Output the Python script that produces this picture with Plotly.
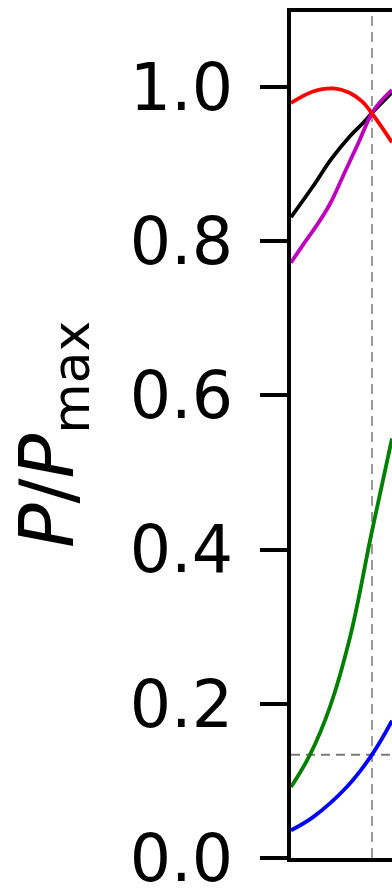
import plotly.graph_objects as go

# x in units where the vertical reference line sits at 1.0
x_red = [0.0, 0.272, 0.519, 0.728, 0.877, 0.975, 1.099, 1.247]
y_red = [0.979, 0.994, 0.998, 0.992, 0.981, 0.969, 0.951, 0.928]

x_black = [0.0, 0.272, 0.494, 0.728, 0.889, 1.0, 1.099, 1.247]
y_black = [0.831, 0.871, 0.906, 0.936, 0.953, 0.966, 0.977, 0.993]

x_mag = [0.0, 0.148, 0.309, 0.481, 0.654, 0.827, 1.0, 1.099, 1.247]
y_mag = [0.772, 0.795, 0.819, 0.848, 0.887, 0.926, 0.966, 0.980, 0.996]

x_green = [0.0, 0.235, 0.481, 0.728, 1.0, 1.247]
y_green = [0.092, 0.134, 0.196, 0.286, 0.424, 0.544]

x_blue = [0.0, 0.272, 0.688, 1.0, 1.247]
y_blue = [0.036, 0.053, 0.092, 0.134, 0.178]

x_ref = 1.0
y_ref = 0.134

y_ticks = [0.0, 0.2, 0.4, 0.6, 0.8, 1.0]
x_range = [0.0, 1.247]
y_range = [0.0, 1.097]

fig = go.Figure()

fig.add_trace(go.Scatter(x=[x_ref, x_ref], y=y_range, mode="lines",
                         line=dict(color="#9a9a9a", width=2, dash="10px,6px"),
                         hoverinfo="skip"))
fig.add_trace(go.Scatter(x=x_range, y=[y_ref, y_ref], mode="lines",
                         line=dict(color="#7a7a7a", width=2, dash="9px,6px"),
                         hoverinfo="skip"))

for xs, ys, c in [(x_green, y_green, "#008000"),
                  (x_blue, y_blue, "#0000ff"),
                  (x_black, y_black, "#000000"),
                  (x_mag, y_mag, "#bf00bf"),
                  (x_red, y_red, "#ff0000")]:
    fig.add_trace(go.Scatter(x=xs, y=ys, mode="lines",
                             line=dict(color=c, width=3.8, shape="spline", smoothing=1.1)))

fig.update_layout(
    width=392, height=896,
    margin=dict(l=291, r=0, t=12, b=35),
    paper_bgcolor="white", plot_bgcolor="white",
    showlegend=False,
    font=dict(family="DejaVu Sans", color="black"),
    xaxis=dict(range=x_range, showgrid=False, zeroline=False, showline=True,
               linecolor="black", linewidth=4, mirror=True,
               showticklabels=False, ticks=""),
    yaxis=dict(range=y_range, showgrid=False, zeroline=False, showline=True,
               linecolor="black", linewidth=4, mirror=False,
               tickvals=y_ticks, tickformat=".1f", ticks="outside",
               ticklen=27, tickwidth=4, tickcolor="black",
               tickfont=dict(family="DejaVu Sans", size=65, color="black"),
               ticklabelstandoff=14, ticklabeloverflow="allow"),
    annotations=[dict(text="<i>P</i>/<i>P</i><sub>max</sub>", textangle=-90,
                      xref="paper", yref="paper", x=-(291 - 52) / 101, y=0.5,
                      xanchor="center", yanchor="middle", showarrow=False,
                      font=dict(family="DejaVu Sans", size=74, color="black"))],
)

fig.write_html("out.html")
